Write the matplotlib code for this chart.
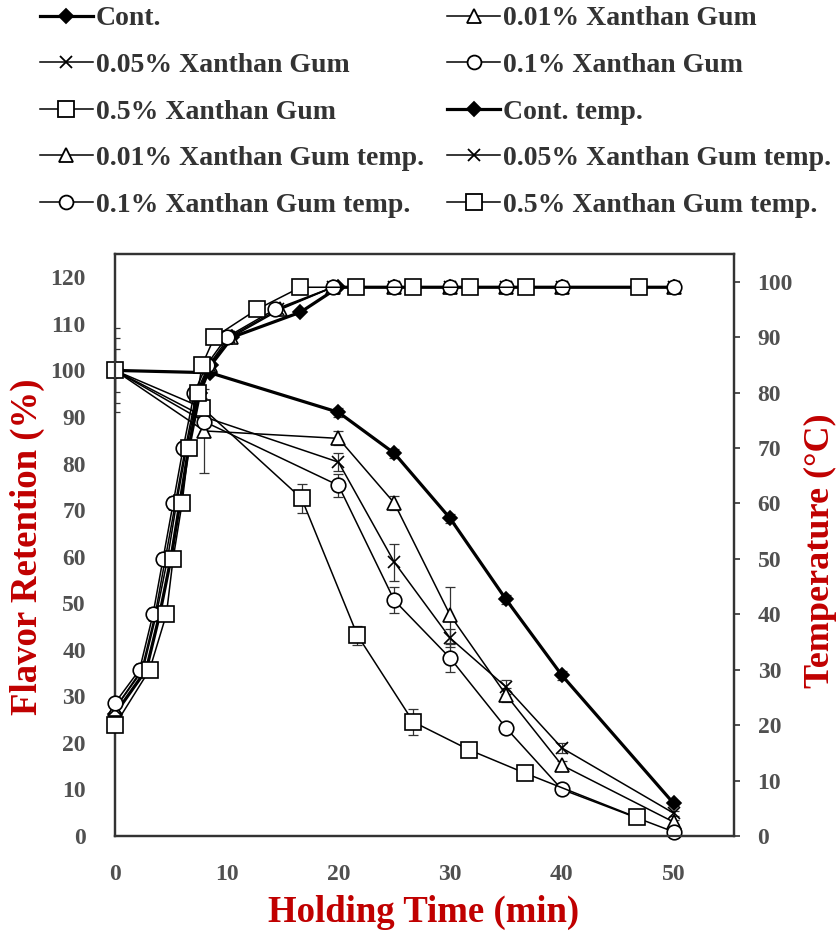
import matplotlib
matplotlib.use("Agg")
import matplotlib.pyplot as plt
from matplotlib.lines import Line2D

# ---------------- data ----------------
# Flavor retention (%)
t_std = [0, 8, 20, 25, 30, 35, 40, 50]
t_05 = [0, 7.8, 16.7, 21.7, 26.7, 31.7, 36.7, 46.7]
t_cont = [0, 8.5, 20, 25, 30, 35, 40, 50]

fr_cont = [100, 99.5, 91, 82.2, 68.2, 50.8, 34.5, 7]
fr_001 = [100, 87, 85.4, 71.5, 47.4, 30.3, 15.2, 3]
fr_005 = [100, 90, 80.3, 58.8, 42.5, 32, 18.9, 4.9]
fr_01 = [100, 89, 75.3, 50.6, 38.2, 23.2, 10, 0.9]
fr_05 = [100, 92, 72.5, 43.1, 24.5, 18.5, 13.5, 4]

err_cont = [0, 0, 1, 1, 1, 1, 1, 0.5]
err_001 = [9, 9, 1.5, 1.5, 6, 1.5, 1, 0.5]
err_005 = [7, 3, 2, 4, 2, 1.5, 1, 0.5]
err_01 = [4.7, 3, 2.5, 2.8, 3, 1, 1, 0.5]
err_05 = [0, 2, 3.2, 2, 2.8, 1, 1, 0.5]

# Temperature (deg C)
tt_cont = [0, 2.8, 4.0, 5.0, 5.8, 6.6, 7.6, 8.6, 10.5, 16.6, 20, 25, 30, 35, 40, 50]
T_cont = [22, 30, 40, 50, 60, 70, 80, 85, 90, 94.5, 99, 99, 99, 99, 99, 99]
tt_001 = [0, 2.5, 3.7, 4.7, 5.5, 6.4, 7.4, 8.5, 10.4, 14.8, 19.5, 25, 30, 35, 40, 50]
T_001 = [23, 30, 40, 50, 60, 70, 80, 85, 90, 95, 99, 99, 99, 99, 99, 99]
tt_005 = [0, 2.4, 3.6, 4.5, 5.4, 6.3, 7.3, 8.4, 10.2, 14.6, 19.5, 25, 30, 35, 40, 50]
T_005 = [23, 30, 40, 50, 60, 70, 80, 85, 90, 95, 99, 99, 99, 99, 99, 99]
tt_01 = [0, 2.2, 3.4, 4.3, 5.2, 6.1, 7.1, 8.2, 10.0, 14.3, 19.5, 25, 30, 35, 40, 50]
T_01 = [24, 30, 40, 50, 60, 70, 80, 85, 90, 95, 99, 99, 99, 99, 99, 99]
tt_05 = [0, 3.1, 4.6, 5.2, 6.0, 6.6, 7.4, 7.8, 8.9, 12.7, 16.6, 21.6, 26.7, 31.8, 36.8, 46.9]
T_05 = [20, 30, 40, 50, 60, 70, 80, 85, 90, 95, 99, 99, 99, 99, 99, 99]

labels = ["Cont.", "0.01% Xanthan Gum", "0.05% Xanthan Gum", "0.1% Xanthan Gum",
          "0.5% Xanthan Gum", "Cont. temp.", "0.01% Xanthan Gum temp.",
          "0.05% Xanthan Gum temp.", "0.1% Xanthan Gum temp.", "0.5% Xanthan Gum temp."]

x_ticks = [0, 10, 20, 30, 40, 50]
y_ticks = list(range(0, 121, 10))
y2_ticks = list(range(0, 101, 10))

# ---------------- styles ----------------
styles = [
    dict(marker="D", ms=7.5, mfc="black", mec="black", lw=2.3),
    dict(marker="^", ms=10, mfc="white", mec="black", lw=1.1),
    dict(marker="x", ms=9, mfc="none", mec="black", lw=1.1),
    dict(marker="o", ms=10.5, mfc="white", mec="black", lw=1.1),
    dict(marker="s", ms=12, mfc="white", mec="black", lw=1.1),
]

plt.rcParams["font.family"] = ["Liberation Serif", "DejaVu Serif"]
plt.rcParams["font.weight"] = "bold"

fig = plt.figure(figsize=(8.4, 9.33), dpi=100)
ax = fig.add_axes([115 / 840, 1 - 836 / 933, (734 - 115) / 840, (836 - 254) / 933])
ax2 = ax.twinx()

flav = [(t_cont, fr_cont, err_cont), (t_std, fr_001, err_001), (t_std, fr_005, err_005),
        (t_std, fr_01, err_01), (t_05, fr_05, err_05)]
temps = [(tt_cont, T_cont), (tt_001, T_001), (tt_005, T_005), (tt_01, T_01), (tt_05, T_05)]

for (tx, ty), st in zip(temps, styles):
    ax2.plot(tx, ty, color="black", lw=st["lw"], marker=st["marker"], ms=st["ms"],
             mfc=st["mfc"], mec=st["mec"], mew=1.2, zorder=3, clip_on=False)

for (tx, fy, fe), st in zip(flav, styles):
    ax.errorbar(tx, fy, yerr=fe, fmt="none", ecolor="#333333", elinewidth=0.9,
                capsize=3.5, capthick=0.9, zorder=2)
    ax.plot(tx, fy, color="black", lw=st["lw"], marker=st["marker"], ms=st["ms"],
            mfc=st["mfc"], mec=st["mec"], mew=1.2, zorder=3, clip_on=False)

ax.set_xlim(0, 55.4)
ax.set_ylim(0, 125)
ax2.set_ylim(0, 105)
ax.set_xticks(x_ticks)
ax.set_yticks(y_ticks)
ax2.set_yticks(y2_ticks)

tick_color = "#505050"
ax.tick_params(axis="x", length=0, pad=20, labelsize=17, labelcolor=tick_color)
ax.tick_params(axis="y", length=0, pad=21, labelsize=17, labelcolor=tick_color)
ax2.tick_params(axis="y", direction="out", length=4, width=1.2, color="#333333",
                pad=13, labelsize=17, labelcolor=tick_color)
for a in (ax, ax2):
    for sp in a.spines.values():
        sp.set_color("#333333")
        sp.set_linewidth(1.6)

red = "#C00000"
fig.text(424 / 840, 1 - 912 / 933, "Holding Time (min)", ha="center", va="center",
         fontsize=26.5, fontweight="bold", color=red)
fig.text(27 / 840, 1 - 547 / 933, "Flavor Retention (%)", ha="center", va="center",
         rotation=90, fontsize=26.5, fontweight="bold", color=red)
fig.text(820 / 840, 1 - 551 / 933, "Temperature (°C)", ha="center", va="center",
         rotation=90, fontsize=26, fontweight="bold", color=red)

# legend (row-wise order in 2 columns)
handles = []
for st in styles + styles:
    handles.append(Line2D([0], [0], color="black", lw=st["lw"], marker=st["marker"],
                          ms=st["ms"] * 0.95, mfc=st["mfc"], mec=st["mec"], mew=1.3))
order = [0, 2, 4, 6, 8, 1, 3, 5, 7, 9]
leg = fig.legend([handles[i] for i in order], [labels[i] for i in order], ncol=2,
                 loc="upper left", bbox_to_anchor=(40 / 840, 1 - 6 / 933),
                 frameon=False, borderpad=0, borderaxespad=0, fontsize=20,
                 handlelength=1.9, handletextpad=0.1, labelspacing=0.76,
                 columnspacing=0.85)
for txt in leg.get_texts():
    txt.set_color("#333333")
    txt.set_fontweight("bold")

fig.savefig("out.png", dpi=100)
